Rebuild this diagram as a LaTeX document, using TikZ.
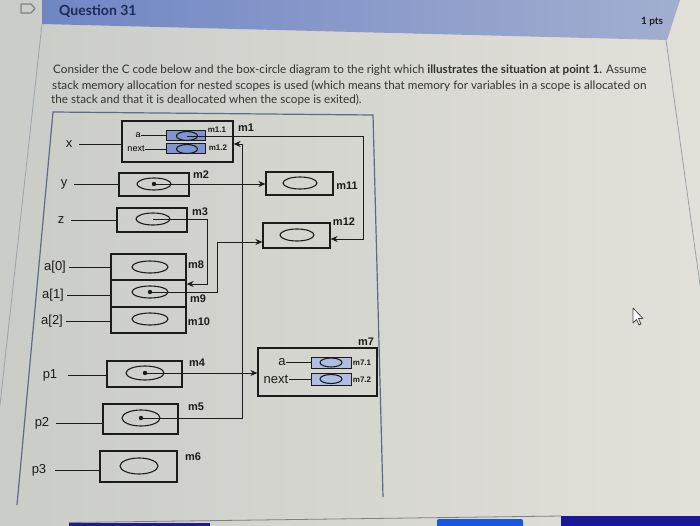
\documentclass[tikz,border=0pt]{standalone}
\usepackage{fontspec}
\setmainfont{Liberation Sans}
\newfontfamily\canvasfont{Lato}
\usetikzlibrary{arrows.meta, shapes.geometric, positioning, calc}

\definecolor{screenL}{HTML}{CACCC8}
\definecolor{screenR}{HTML}{E2E1D9}
\definecolor{bandL}{HTML}{7086C4}
\definecolor{bandR}{HTML}{A3AED0}
\definecolor{qnavy}{HTML}{1E2A57}
\definecolor{ink}{HTML}{1C1C1C}
\definecolor{framegray}{HTML}{5D6B86}
\definecolor{pagegray}{HTML}{9CA1AA}
\definecolor{celldark}{HTML}{7F95D0}
\definecolor{celllight}{HTML}{AEBDE2}
\definecolor{navy}{HTML}{1C1C8C}
\definecolor{btnblue}{HTML}{1A56E0}

\tikzset{
  mbox/.style={draw=ink, line width=1.2pt, inner sep=0pt},
  cellbox/.style={draw=ink, line width=1pt, inner sep=0pt},
  blob/.style={ellipse, draw=ink, line width=1.1pt, inner sep=0pt},
  var/.style={font=\fontsize{13}{13}\selectfont, text=ink, inner sep=1pt},
  mtag/.style={font=\bfseries\fontsize{11}{11}\selectfont, text=ink, inner sep=0pt},
  subtag/.style={font=\bfseries\fontsize{8}{8}\selectfont, text=ink, inner sep=0pt},
  wire/.style={draw=ink, line width=0.9pt},
  ptr/.style={wire, ->},
  body/.style={anchor=west, font=\canvasfont\fontsize{11.7}{11.7}\selectfont, text=ink!90, inner sep=0pt},
}

\begin{document}
\begin{tikzpicture}[x=1pt, y=-1pt, >={Stealth[length=7pt,width=6pt]}]
  \useasboundingbox (0,0) rectangle (700,526);
  \shade[left color=screenL, right color=screenR] (0,0) rectangle (700,526);

  % page and header
  \shade[left color=bandL, right color=bandR] (42,0) -- (680,0) -- (667,40) -- (42,24) -- cycle;
  \draw[pagegray, line width=0.8pt] (42,24) -- (0,405);
  \draw[pagegray, line width=0.8pt] (666,40) -- (700,285);
  \draw[gray, line width=1.2pt, line join=round] (21,4) -- (31,4) -- (35,8.5) -- (31,13) -- (21,13) -- cycle;
  \node[anchor=west, font=\canvasfont\bfseries\fontsize{14}{14}\selectfont, text=qnavy, inner sep=0pt] (qtitle) at (59,11) {Question 31};
  \node[font=\canvasfont\bfseries\fontsize{10}{10}\selectfont, text=ink, inner sep=0pt] (qpts) at (652,22) {1 pts};

  \node[body] (line1) at (53,70) {Consider the C code below and the box-circle diagram to the right which {\bfseries illustrates the situation at point 1.} Assume};
  \node[body] (line2) at (52,86) {stack memory allocation for nested scopes is used (which means that memory for variables in a scope is allocated on};
  \node[body] (line3) at (51,100) {the stack and that it is deallocated when the scope is exited).};

  % diagram frame
  \draw[framegray, line width=1.2pt] (17,505) -- (53,112) -- (373,115) -- (383,497);

  % x: struct m1
  \node[mbox, minimum width=111pt, minimum height=41pt] (m1) at (177.5,141.5) {};
  \node[cellbox, fill=celldark, minimum width=39pt, minimum height=10pt] (m1a) at (185.5,136) {};
  \node[cellbox, fill=celldark, minimum width=39pt, minimum height=10pt] (m1b) at (185.5,149) {};
  \node[blob, minimum width=21pt, minimum height=9pt] (e1a) at (187,136) {};
  \node[blob, minimum width=21pt, minimum height=9pt] (e1b) at (187,149) {};
  \node[font=\fontsize{9}{9}\selectfont, inner sep=0.5pt] (n1a) at (138,135) {a};
  \node[font=\fontsize{9}{9}\selectfont, inner sep=0.5pt] (n1b) at (136,149) {next};
  \draw[wire] (n1a.east) -- (n1a.east -| m1a.west);
  \draw[wire] (n1b.east) -- (n1b.east -| m1b.west);
  \node[subtag] (t1a) at (217,130) {m1.1};
  \node[subtag] (t1b) at (218,148) {m1.2};
  \node[mtag] (t1) at (246,128) {m1};

  % y, z
  \node[mbox, minimum width=70pt, minimum height=23pt] (m2) at (154,184.5) {};
  \node[blob, minimum width=34pt, minimum height=12pt] (e2) at (154,184) {};
  \node[mtag] (t2) at (201,175) {m2};
  \node[mbox, minimum width=70pt, minimum height=24pt] (m3) at (152,220) {};
  \node[blob, minimum width=34pt, minimum height=12pt] (e3) at (153,219) {};
  \node[mtag] (t3) at (200,212) {m3};

  % a[0..2]
  \node[mbox, minimum width=75pt, minimum height=26pt] (m8) at (148.5,267) {};
  \node[mbox, minimum width=75pt, minimum height=27pt] (m9) at (148.5,293.5) {};
  \node[mbox, minimum width=75pt, minimum height=26pt] (m10) at (148.5,320) {};
  \node[blob, minimum width=36pt, minimum height=12pt] (e8) at (150,267) {};
  \node[blob, minimum width=36pt, minimum height=12pt] (e9) at (150,292) {};
  \node[blob, minimum width=36pt, minimum height=12pt] (e10) at (150,319) {};
  \node[mtag] (t8) at (196,265) {m8};
  \node[mtag] (t9) at (198,299) {m9};
  \node[mtag] (t10) at (199,322) {m10};

  % p1, p2, p3
  \node[mbox, minimum width=75pt, minimum height=26pt] (m4) at (144.5,374) {};
  \node[blob, minimum width=38pt, minimum height=14pt] (e4) at (145,373) {};
  \node[mtag] (t4) at (197,363) {m4};
  \node[mbox, minimum width=75pt, minimum height=30pt] (m5) at (140.5,419) {};
  \node[blob, minimum width=38pt, minimum height=16pt] (e5) at (141,418) {};
  \node[mtag] (t5) at (196,407) {m5};
  \node[mbox, minimum width=77pt, minimum height=31pt] (m6) at (138.5,466.5) {};
  \node[blob, minimum width=38pt, minimum height=16pt] (e6) at (139,466) {};
  \node[mtag] (t6) at (193,457) {m6};

  % m11, m12
  \node[mbox, minimum width=67pt, minimum height=23pt] (m11) at (299.5,183.5) {};
  \node[blob, minimum width=34pt, minimum height=12pt] (e11) at (300,183) {};
  \node[mtag] (t11) at (347,186) {m11};
  \node[mbox, minimum width=67pt, minimum height=25pt] (m12) at (296.5,235.5) {};
  \node[blob, minimum width=34pt, minimum height=12pt] (e12) at (297,235) {};
  \node[mtag] (t12) at (344,222) {m12};

  % struct m7
  \node[mbox, minimum width=119pt, minimum height=48pt] (m7) at (317.5,372) {};
  \node[cellbox, fill=celllight, minimum width=40pt, minimum height=11pt] (m7a) at (331,362.5) {};
  \node[cellbox, fill=celllight, minimum width=40pt, minimum height=12pt] (m7b) at (331,379) {};
  \node[blob, minimum width=22pt, minimum height=9pt] (e7a) at (331,362.5) {};
  \node[blob, minimum width=22pt, minimum height=9pt] (e7b) at (331,379) {};
  \node[var, inner sep=0.5pt] (n7a) at (282,362.5) {a};
  \node[var, inner sep=0.5pt] (n7b) at (276,379) {next};
  \draw[wire] (n7a.east) -- (n7a.east -| m7a.west);
  \draw[wire] (n7b.east) -- (n7b.east -| m7b.west);
  \node[subtag] (t7a) at (362,363) {m7.1};
  \node[subtag] (t7b) at (362,380) {m7.2};
  \node[mtag] (t7) at (366,342) {m7};

  % variable names
  \node[var] (vx) at (69,144) {x};
  \node[var] (vy) at (64,184) {y};
  \node[var] (vz) at (61,220) {z};
  \node[var] (va0) at (55,267) {a[0]};
  \node[var] (va1) at (53,295) {a[1]};
  \node[var] (va2) at (52,321) {a[2]};
  \node[var] (vp1) at (50,375) {p1};
  \node[var] (vp2) at (42,423) {p2};
  \node[var] (vp3) at (39,470) {p3};
  \draw[wire] (vx.east) ++(6,0) -- (vx.east -| m1.west);
  \draw[wire] (vy.east) ++(6,0) -- (vy.east -| m2.west);
  \draw[wire] (vz.east) ++(6,0) -- (vz.east -| m3.west);
  \draw[wire] (va0.east) ++(2,0) -- (va0.east -| m8.west);
  \draw[wire] (va1.east) ++(2,0) -- (va1.east -| m9.west);
  \draw[wire] (va2.east) ++(2,0) -- (va2.east -| m10.west);
  \draw[wire] (vp1.east) ++(10,0) -- (vp1.east -| m4.west);
  \draw[wire] (vp2.east) ++(6,0) -- (vp2.east -| m5.west);
  \draw[wire] (vp3.east) ++(8,0) -- (vp3.east -| m6.west);

  % pointers
  \foreach \e in {e2, e4, e5, e9} \fill[ink] (\e.center) circle (2.2pt);
  \coordinate (k1) at (363,239);
  \coordinate (k3) at (207,284);
  \coordinate (k9) at (217,242);
  \coordinate (k5) at (242,144);
  \draw[ptr] (e1a.center) -| (k1) -- (k1 -| m12.east);
  \draw[ptr] (e2.center) -- (e2.center -| m11.west);
  \draw[ptr] (e3.center) -| (k3) -- (k3 -| m9.east);
  \draw[ptr] (e9.center) -| (k9) -- (k9 -| m12.west);
  \draw[ptr] (e4.center) -- (e4.center -| m7.west);
  \draw[ptr] (e5.center) -| (k5) -- (k5 -| m1.east);

  % cursor and bottom bar
  \draw[fill=white, draw=ink!80, line width=0.8pt, line join=round] (633,308) -- (633,323) -- (636.5,319.5) -- (639,325) -- (641,324) -- (638.5,318.5) -- (643,318.5) -- cycle;
  \draw[gray, line width=0.8pt] (69,522.5) -- (561,516);
  \fill[navy] (69,522.5) rectangle (210,526);
  \fill[btnblue, rounded corners=2pt] (437,519) rectangle (523,530);
  \fill[navy!90!blue] (561,515.5) rectangle (700,526);
\end{tikzpicture}
\end{document}
